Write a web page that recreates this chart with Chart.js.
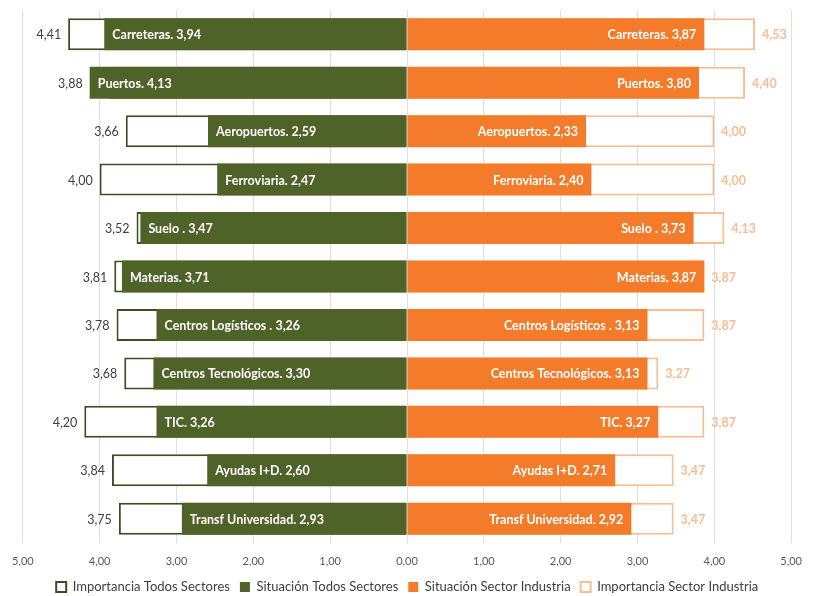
<!DOCTYPE html>
<html>
<head>
<meta charset="utf-8">
<script src="https://cdn.jsdelivr.net/npm/chart.js@4"></script>
<style>
  body { margin: 0; background: #ffffff; }
  #wrap { width: 814px; height: 596px; }
</style>
</head>
<body>
<div id="wrap"><canvas id="chart"></canvas></div>
<script>
'use strict';

// Categories (top to bottom)
const categories = ['Carreteras', 'Puertos', 'Aeropuertos', 'Ferroviaria', 'Suelo ', 'Materias',
    'Centros Logísticos ', 'Centros Tecnológicos', 'TIC', 'Ayudas I+D', 'Transf Universidad'];

// Todos los sectores (left side)
const importanciaTodos = [4.41, 3.88, 3.66, 4.00, 3.52, 3.81, 3.78, 3.68, 4.20, 3.84, 3.75];
const situacionTodos = [3.94, 4.13, 2.59, 2.47, 3.47, 3.71, 3.26, 3.30, 3.26, 2.60, 2.93];

// Sector industria (right side)
const situacionIndustria = [3.87, 3.80, 2.33, 2.40, 3.73, 3.87, 3.13, 3.13, 3.27, 2.71, 2.92];
const importanciaIndustria = [4.53, 4.40, 4.00, 4.00, 4.13, 3.87, 3.87, 3.27, 3.87, 3.47, 3.47];

// Axis ticks (absolute values on both sides)
const tickValues = [-5, -4, -3, -2, -1, 0, 1, 2, 3, 4, 5];

const green = '#4f6228';
const greenBorder = '#3f4d22';
const orange = '#f47b2a';
const lightOrange = '#f9bd92';
const fontFamily = 'Lato, "Open Sans", sans-serif';

function fmt(v) {
    return Math.abs(v).toFixed(2).replace('.', ',');
}

// Draw the value labels on and beside the bars
const barLabels = {
    id: 'barLabels',
    afterDatasetsDraw(chart) {
        const ctx = chart.ctx;
        const impL = chart.getDatasetMeta(0).data;
        const sitL = chart.getDatasetMeta(1).data;
        const sitR = chart.getDatasetMeta(2).data;
        const impR = chart.getDatasetMeta(3).data;
        ctx.save();
        ctx.textBaseline = 'middle';
        categories.forEach((cat, i) => {
            const y = sitL[i].y + 1;
            // left: situación label inside the green bar
            ctx.font = 'bold 12.5px ' + fontFamily;
            ctx.fillStyle = '#ffffff';
            ctx.textAlign = 'left';
            ctx.fillText(cat + '. ' + fmt(situacionTodos[i]), sitL[i].x + 8, y);
            // right: situación label inside the orange bar
            ctx.textAlign = 'right';
            ctx.fillText(cat + '. ' + fmt(situacionIndustria[i]), sitR[i].x - 8, y);
            // left importance value
            ctx.font = '12.5px ' + fontFamily;
            ctx.fillStyle = '#404040';
            ctx.textAlign = 'right';
            ctx.fillText(fmt(importanciaTodos[i]), Math.min(impL[i].x, sitL[i].x) - 7, y);
            // right importance value
            ctx.font = 'bold 12.5px ' + fontFamily;
            ctx.fillStyle = lightOrange;
            ctx.textAlign = 'left';
            ctx.fillText(fmt(importanciaIndustria[i]), Math.max(impR[i].x, sitR[i].x) + 7, y);
        });
        ctx.restore();
    }
};

// Keep the legend band short so the plot gets the height
const legendHeight = {
    id: 'legendHeight',
    beforeInit(chart) {
        const fit = chart.legend.fit;
        chart.legend.fit = function () {
            fit.call(this);
            this.height = 25.5;
        };
    }
};

const common = {
    grouped: false,
    categoryPercentage: 1,
    barPercentage: 0.66,
    borderSkipped: false
};

const ctx = document.getElementById('chart').getContext('2d');
const chart = new Chart(ctx, {
    type: 'bar',
    data: {
        labels: categories,
        datasets: [
            Object.assign({
                label: 'Importancia Todos Sectores',
                data: importanciaTodos.map(v => -v),
                backgroundColor: '#ffffff',
                borderColor: greenBorder,
                borderWidth: 2,
                order: 1
            }, common),
            Object.assign({
                label: 'Situación Todos Sectores',
                data: situacionTodos.map(v => -v),
                backgroundColor: green,
                borderWidth: 0,
                order: 0
            }, common),
            Object.assign({
                label: 'Situación Sector Industria',
                data: situacionIndustria,
                backgroundColor: orange,
                borderWidth: 0,
                order: 0
            }, common),
            Object.assign({
                label: 'Importancia Sector Industria',
                data: importanciaIndustria,
                backgroundColor: '#ffffff',
                borderColor: lightOrange,
                borderWidth: 2,
                order: 1
            }, common)
        ]
    },
    options: {
        indexAxis: 'y',
        responsive: true,
        maintainAspectRatio: false,
        animation: false,
        layout: { padding: { left: 21.5, right: 21, top: 10, bottom: 0 } },
        scales: {
            x: {
                min: -5,
                max: 5,
                afterBuildTicks: axis => {
                    axis.ticks = tickValues.map(v => ({ value: v }));
                },
                afterFit: axis => {
                    axis.height = 27.5;
                },
                ticks: {
                    callback: v => fmt(v),
                    color: '#595959',
                    font: { family: fontFamily, size: 11 },
                    padding: 12,
                    maxRotation: 0
                },
                grid: { color: '#d9e2ea', drawTicks: false },
                border: { display: false }
            },
            y: {
                display: false
            }
        },
        plugins: {
            legend: {
                position: 'bottom',
                labels: {
                    boxWidth: 10,
                    boxHeight: 10,
                    padding: 10,
                    color: '#404040',
                    font: { family: fontFamily, size: 13 },
                    sort: (a, b) => a.datasetIndex - b.datasetIndex
                }
            },
            tooltip: { enabled: false }
        }
    },
    plugins: [barLabels, legendHeight]
});
</script>
</body>
</html>
